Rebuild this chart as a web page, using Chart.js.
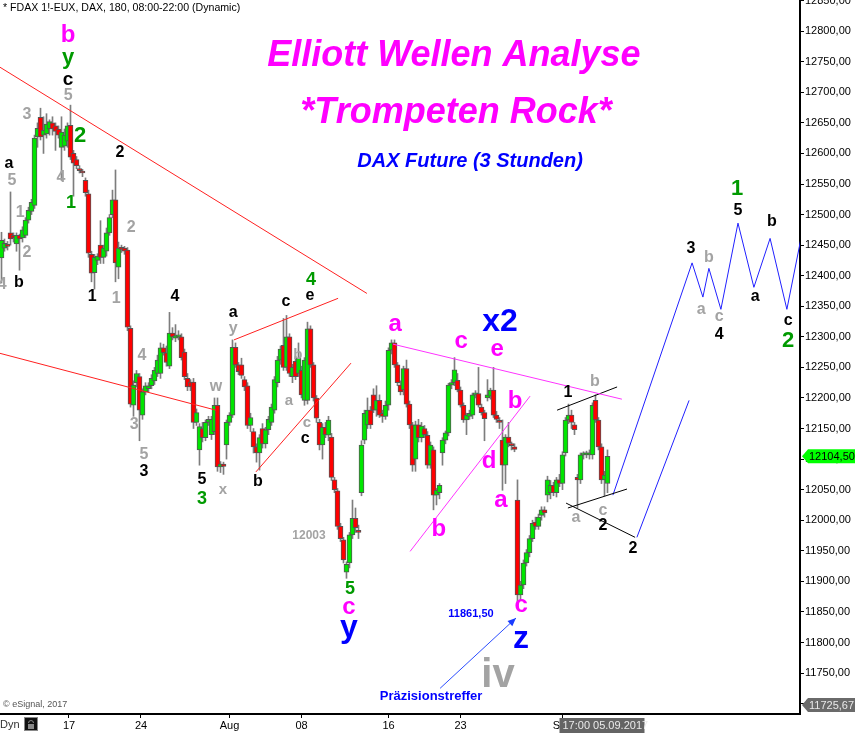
<!DOCTYPE html>
<html><head><meta charset="utf-8">
<script src="https://cdn.jsdelivr.net/npm/chart.js@4.4.1/dist/chart.umd.min.js"></script>
<style>html,body{margin:0;padding:0;background:#fff;overflow:hidden}canvas{display:block}</style>
</head><body>
<canvas id="c" width="855" height="733" style="width:855px;height:733px"></canvas>
<script>
// ---- 3-hour FDAX candles ----
const opens=[12429,12445,12450,12470,12466,12452,12466,12462,12466,12491,12505,
12515,12627,12659,12630,12632,12640,12650,12645,12640,12610,
12612,12620,12646,12600,12590,12575,12570,12556,12534,12435,
12405,12425,12450,12430,12440,12470,12500,12524,12414,12445,
12445,12442,12314,12188,12225,12235,12172,12210,12215,12220,
12228,12240,12240,12282,12274,12252,12306,12298,12300,12300,
12275,12232,12226,12226,12160,12115,12150,12135,12160,12140,
12145,12188,12087,12092,12123,12160,12172,12283,12254,12254,
12230,12220,12155,12145,12120,12110,12150,12125,12148,12160,
12180,12225,12262,12286,12250,12300,12235,12260,12240,12245,
12196,12196,12313,12254,12200,12160,12123,12152,12139,12136,
12066,12048,11990,11968,11915,11930,11976,12003,11983,12045,
12131,12156,12180,12205,12180,12196,12175,12170,12188,12278,
12290,12254,12221,12213,12248,12190,12156,12100,12156,12135,
12150,12139,12090,12115,12041,12045,12110,12131,12143,12221,
12225,12229,12213,12188,12164,12170,12172,12205,12207,12185,
12176,12200,12203,12213,12172,12163,12131,12090,12136,12124,
12120,
12033,11878,11894,11930,11947,11970,11997,11990,12008,12017,
12041,12045,12057,12045,12066,12060,12110,12164,12172,12156,
12070,12066,12107,12107,12107,12107,12196,12164,12120,12066,12060];
const highs=[12471,12460,12456,12537,12470,12470,12468,12480,12495,12512,12525,
12630,12650,12674,12660,12665,12655,12660,12650,12645,12660,
12640,12650,12679,12605,12595,12580,12574,12560,12540,12440,
12435,12436,12490,12450,12478,12500,12540,12573,12455,12450,
12448,12446,12318,12228,12245,12240,12215,12225,12225,12238,
12250,12270,12290,12288,12285,12340,12315,12320,12310,12305,
12280,12240,12230,12232,12182,12158,12160,12164,12170,12170,
12200,12200,12096,12095,12164,12176,12295,12290,12258,12265,
12235,12225,12175,12150,12125,12140,12158,12152,12170,12190,
12235,12268,12285,12330,12335,12305,12255,12268,12290,12252,
12266,12324,12318,12258,12204,12165,12158,12160,12170,12142,
12070,12052,11995,11972,11932,11980,12033,12020,11992,12130,
12180,12200,12186,12215,12220,12205,12180,12195,12282,12295,
12295,12258,12228,12252,12262,12195,12160,12162,12165,12160,
12155,12145,12128,12120,12052,12060,12135,12146,12224,12230,
12266,12240,12218,12192,12175,12180,12208,12212,12250,12190,
12180,12230,12216,12250,12178,12168,12164,12140,12160,12128,
12125,
12066,11900,11935,11952,11975,12000,12005,12010,12022,12022,
12072,12065,12062,12070,12075,12112,12168,12190,12180,12160,
12075,12110,12112,12113,12115,12192,12205,12168,12125,12080,12115];
const lows=[12388,12440,12442,12450,12455,12440,12409,12455,12462,12486,12500,
12510,12610,12622,12600,12625,12630,12630,12605,12625,12556,
12605,12610,12590,12530,12575,12568,12562,12530,12430,12390,
12378,12418,12420,12420,12432,12466,12495,12390,12395,12438,
12435,12310,12185,12170,12218,12130,12165,12205,12210,12215,
12222,12235,12232,12270,12252,12248,12295,12292,12295,12262,
12230,12212,12212,12150,12155,12090,12128,12130,12155,12132,
12140,12080,12078,12075,12100,12155,12168,12250,12238,12232,
12212,12150,12145,12110,12095,12082,12118,12118,12140,12155,
12175,12218,12255,12245,12245,12235,12225,12230,12235,12200,
12188,12190,12250,12195,12160,12115,12100,12135,12130,12065,
12045,11985,11965,11930,11905,11922,11970,11980,11970,12040,
12125,12150,12150,12176,12170,12168,12160,12165,12180,12272,
12250,12220,12205,12205,12185,12150,12080,12080,12128,12128,
12135,12085,12085,12017,12025,12035,12090,12125,12138,12215,
12220,12210,12185,12160,12140,12165,12166,12200,12185,12172,
12130,12195,12198,12168,12160,12150,12049,12060,12120,12115,
12112,
11861.5,11870,11888,11925,11940,11965,11985,11985,12000,12005,
12030,12035,12040,12038,12055,12050,12105,12158,12150,12140,
12020,12060,12100,12102,12100,12100,12160,12115,12060,12040,12045];
const closes=[12458,12453,12448,12460,12462,12466,12460,12475,12491,12507,12520,
12625,12641,12627,12638,12648,12652,12640,12636,12630,12635,
12630,12645,12594,12584,12580,12572,12568,12536,12437,12404,
12430,12432,12430,12445,12470,12495,12524,12421,12445,12443,
12440,12316,12190,12221,12240,12180,12210,12220,12220,12232,
12245,12262,12282,12274,12258,12306,12300,12302,12303,12266,
12235,12218,12218,12160,12176,12153,12135,12160,12165,12165,
12188,12087,12092,12088,12160,12172,12283,12254,12243,12237,
12218,12155,12168,12120,12110,12135,12125,12148,12165,12185,
12230,12262,12280,12250,12300,12240,12250,12235,12265,12205,
12262,12313,12254,12200,12167,12123,12152,12140,12164,12070,
12050,11990,11970,11935,11928,11976,12003,11988,11980,12123,
12175,12180,12156,12180,12196,12172,12170,12188,12278,12290,
12254,12225,12210,12248,12190,12156,12090,12156,12135,12154,
12140,12090,12123,12041,12049,12057,12131,12143,12221,12225,
12246,12213,12188,12164,12172,12175,12205,12208,12188,12176,
12166,12205,12213,12172,12165,12160,12090,12136,12126,12122,
12116,
11878,11894,11930,11947,11970,11995,11990,12005,12017,12012,
12066,12057,12045,12066,12060,12107,12164,12172,12160,12148,
12066,12107,12110,12110,12110,12188,12164,12120,12066,12074,12104.5];

// ---- axes ----
const tickPos=[22.5,46.5,76,100,129,153,187];          // bar index of date ticks
const tickLabels=['17','24','Aug','08','16','23','Sep'];
const priceTicks=[11700,11750,11800,11850,11900,11950,12000,12050,12100,12150,12200,12250,12300,12350,12400,12450,12500,12550,12600,12650,12700,12750,12800,12850];
const yMin=11683, yMax=12851, xMin=-0.5, xMax=266.17;
const lastPrice=12104.5, lowPrice=11725.67;

// ---- trend lines (bar index, price) ----
const redUpper=[{x:-0.5,y:12741},{x:121.8,y:12371}];
const redLower=[{x:-0.5,y:12273},{x:71.5,y:12180}];
const redWedgeTop=[{x:77.5,y:12295},{x:112.2,y:12363}];
const redWedgeBottom=[{x:84.8,y:12079},{x:116.5,y:12257}];
const magTop=[{x:130.5,y:12288},{x:206.8,y:12198}];
const magBottom=[{x:136.2,y:11949},{x:176.2,y:12203}];
const blackTop=[{x:185.2,y:12180},{x:205.2,y:12218}];
const blackBottom=[{x:188.8,y:12020},{x:208.5,y:12051}];
const blackDown=[{x:188.2,y:12028},{x:211.2,y:11972}];
const projIdx=[203.8,230.2,233.8,235.8,239.8,245.5,250.8,256.2,261.8,268.2];
const projPrice=[12041,12421,12365,12412,12345,12486,12381,12461,12345,12503];
const altProj=[{x:211.8,y:11972},{x:229.2,y:12196}];
const arrowLine=[{x:146.2,y:11725},{x:171.5,y:11840}];

// ---- wave labels: text, bar index, price, style ----
const waveLabels=[
['b',22.2,12793,'magM'],['y',22.2,12756,'greenM'],['c',22.2,12721,'blackM'],['5',22.2,12694,'gray'],
['3',8.5,12663,'gray'],['2',26.2,12628,'greenM'],['a',2.5,12584,'black'],['5',3.5,12555,'gray'],
['4',19.8,12561,'gray'],['1',23.2,12519,'green'],['2',39.5,12602,'black'],['1',6.2,12504,'gray'],
['2',8.5,12437,'gray'],['b',5.8,12388,'black'],['4',0.2,12385,'gray'],['2',43.2,12478,'gray'],
['1',30.2,12365,'black'],['1',38.2,12363,'gray'],['4',57.8,12365,'black'],['4',46.8,12270,'gray'],
['3',44.2,12157,'gray'],['5',47.5,12107,'gray'],['3',47.5,12080,'black'],['5',66.8,12066,'black'],
['3',66.8,12035,'green'],['x',73.8,12049,'graySm'],['w',71.5,12219,'gray'],['a',77.2,12339,'black'],
['y',77.2,12313,'gray'],['b',85.5,12064,'black'],['c',94.8,12358,'black'],['4',103.2,12393,'green'],
['e',102.8,12367,'black'],['b',98.8,12270,'graySm'],['a',95.8,12195,'graySm'],['c',101.8,12160,'graySm'],
['c',101.2,12134,'black'],['12003',102.5,11975,'grayNum'],['5',116.2,11887,'green'],
['c',115.8,11858,'mag'],['y',115.8,11824,'blueL'],['a',131.2,12321,'mag'],['c',153.2,12293,'mag'],
['x2',166.2,12324,'blueL'],['e',165.2,12280,'mag'],['b',171.2,12195,'mag'],['d',162.5,12097,'mag'],
['b',145.8,11985,'mag'],['a',166.5,12032,'mag'],['11861,50',156.5,11846,'blueNum'],
['c',173.2,11861,'mag'],['z',173.2,11805,'blueL'],['iv',165.5,11746,'grayXL'],
['Präzisionstreffer',143.2,11711,'blueTxt'],
['1',188.8,12209,'black'],['b',197.8,12226,'gray'],['a',191.5,12004,'gray'],['c',200.5,12015,'gray'],
['2',200.5,11991,'black'],['2',210.5,11953,'black'],['3',229.8,12445,'black'],['b',235.8,12430,'gray'],
['a',233.2,12345,'gray'],['c',239.2,12333,'gray'],['4',239.2,12304,'black'],['1',245.2,12542,'greenM'],
['5',245.5,12507,'black'],['b',256.8,12488,'black'],['a',251.2,12365,'black'],['c',262.2,12326,'black'],
['2',262.2,12293,'greenM'],
['Elliott Wellen Analyse',150.8,12759,'title'],['*Trompeten Rock*',151.5,12666,'title'],
['DAX Future (3 Stunden)',156.2,12587,'sub']
];
const F='"Liberation Sans", Arial, sans-serif';
const styles={
 gray:{c:'#a3a3a3',f:'bold 16px '+F}, graySm:{c:'#a3a3a3',f:'bold 15px '+F},
 grayNum:{c:'#a3a3a3',f:'bold 12px '+F}, grayXL:{c:'#a3a3a3',f:'bold 40px '+F},
 black:{c:'#000',f:'bold 16px '+F}, blackM:{c:'#000',f:'bold 19px '+F},
 green:{c:'#009a00',f:'bold 18px '+F}, greenM:{c:'#009a00',f:'bold 22px '+F},
 mag:{c:'#ff00ff',f:'bold 24px '+F}, magM:{c:'#ff00ff',f:'bold 24px '+F},
 blueL:{c:'#0000ff',f:'bold 32px '+F}, blueNum:{c:'#0000ff',f:'bold 11px '+F},
 blueTxt:{c:'#0000ff',f:'bold 13px '+F},
 title:{c:'#ff00ff',f:'italic bold 36px '+F}, sub:{c:'#0000ff',f:'italic bold 20px '+F}
};

const idx=opens.map((_,i)=>i);
const wickData=idx.map(i=>({x:i,y:[lows[i],highs[i]]}));
const bodyData=idx.map(i=>({x:i,y:[Math.min(opens[i],closes[i]),Math.max(opens[i],closes[i])]}));
const bodyColors=idx.map(i=>closes[i]>=opens[i]?'#00e600':'#ff0000');
const proj=projIdx.map((v,i)=>({x:v,y:projPrice[i]}));

function line(data,color,w){return {type:'line',data,borderColor:color,borderWidth:w||1,pointRadius:0,fill:false,tension:0,order:0};}

const annot={
 id:'annot',
 afterDatasetsDraw(chart){
  const {ctx,scales:{x,y}}=chart;
  ctx.save();
  ctx.textAlign='center'; ctx.textBaseline='middle';
  for(const [t,i,p,st] of waveLabels){
    const s=styles[st]; ctx.font=s.f; ctx.fillStyle=s.c;
    ctx.fillText(t,x.getPixelForValue(i),y.getPixelForValue(p));
  }
  const a0=arrowLine[0],a1=arrowLine[1];
  const x0=x.getPixelForValue(a0.x),y0=y.getPixelForValue(a0.y),x1=x.getPixelForValue(a1.x),y1=y.getPixelForValue(a1.y);
  const ang=Math.atan2(y1-y0,x1-x0);
  ctx.fillStyle='#1a3cff';
  ctx.beginPath(); ctx.moveTo(x1,y1);
  ctx.lineTo(x1-9*Math.cos(ang-0.4),y1-9*Math.sin(ang-0.4));
  ctx.lineTo(x1-9*Math.cos(ang+0.4),y1-9*Math.sin(ang+0.4)); ctx.closePath(); ctx.fill();
  ctx.restore();
 },
 afterDraw(chart){
  const {ctx,scales:{x,y},chartArea:ca}=chart;
  ctx.save();
  ctx.textBaseline='middle'; ctx.textAlign='left';
  ctx.font='10.6px '+F; ctx.fillStyle='#000';
  ctx.fillText('* FDAX 1!-EUX, DAX, 180, 08:00-22:00 (Dynamic)',3,8);
  ctx.font='9px '+F; ctx.fillStyle='#555';
  ctx.fillText('\u00a9 eSignal, 2017',3,ca.bottom-9);
  function tag(val,fill,txtCol,yy){
    const py=yy!==undefined?yy:y.getPixelForValue(val);
    const L=ca.right+2;
    ctx.fillStyle=fill; ctx.beginPath();
    ctx.moveTo(L,py); ctx.lineTo(L+6,py-7); ctx.lineTo(855,py-7); ctx.lineTo(855,py+7); ctx.lineTo(L+6,py+7); ctx.closePath(); ctx.fill();
    ctx.fillStyle=txtCol; ctx.font='11px '+F;
    ctx.fillText(val.toFixed(2).replace('.',','),L+7,py+0.5);
  }
  tag(lastPrice,'#00ff00','#000');
  tag(lowPrice,'#6a6a6a','#e8e8e8',ca.bottom-9);
  const bx=x.getPixelForValue(tickPos[6])-3;
  ctx.fillStyle='#646464'; ctx.fillRect(bx,ca.bottom+4,85,15);
  ctx.fillStyle='#eaeaea'; ctx.font='11px '+F;
  ctx.fillText('17:00 05.09.2017',bx+3,ca.bottom+12);
  ctx.fillStyle='#333'; ctx.fillText('Dyn',0,ca.bottom+11);
  ctx.fillStyle='#111'; ctx.fillRect(24,ca.bottom+3,14,14);
  ctx.strokeStyle='#888'; ctx.lineWidth=1; ctx.strokeRect(24.5,ca.bottom+3.5,13,13);
  ctx.fillStyle='#888'; ctx.fillRect(28,ca.bottom+10,6,5);
  ctx.beginPath(); ctx.arc(31,ca.bottom+9,2.5,Math.PI,0); ctx.stroke();
  ctx.restore();
 }
};

new Chart(document.getElementById('c'),{
 type:'bar',
 data:{datasets:[
  {type:'bar',data:wickData,backgroundColor:'#7d7d7d',barThickness:1,grouped:false,order:3},
  {type:'bar',data:bodyData,backgroundColor:bodyColors,borderColor:'#555',borderWidth:1,borderSkipped:false,barThickness:5,minBarLength:2,grouped:false,order:2},
  line(redUpper,'#ff2020'),line(redLower,'#ff2020'),line(redWedgeTop,'#ff2020'),line(redWedgeBottom,'#ff2020'),
  line(magTop,'#ff33ff'),line(magBottom,'#ff33ff'),
  line(blackTop,'#000'),line(blackBottom,'#000'),line(blackDown,'#000'),
  line(proj,'#2020ff'),line(altProj,'#2020ff'),line(arrowLine,'#2a4cff')
 ]},
 options:{
  responsive:false,animation:false,devicePixelRatio:1,
  layout:{padding:0},
  plugins:{legend:{display:false},tooltip:{enabled:false}},
  scales:{
   x:{type:'linear',min:xMin,max:xMax,offset:false,position:'bottom',
      afterBuildTicks:s=>{s.ticks=tickPos.map(v=>({value:v}));},
      afterFit:s=>{s.height=19;s.paddingLeft=0;s.paddingRight=0;},
      ticks:{autoSkip:false,maxRotation:0,minRotation:0,font:{family:'Liberation Sans',size:11},color:'#000',padding:1,callback:(v,i)=>tickLabels[i]},
      grid:{offset:false,drawOnChartArea:false,drawTicks:true,tickLength:4,color:'#000'},
      border:{display:true,color:'#000',width:2}},
   y:{type:'linear',position:'right',min:yMin,max:yMax,
      afterBuildTicks:s=>{s.ticks=priceTicks.map(v=>({value:v}));},
      afterFit:s=>{s.width=55;s.paddingTop=0;s.paddingBottom=0;},
      ticks:{font:{family:'Liberation Sans',size:11},color:'#000',padding:1,callback:v=>v.toFixed(2).replace('.',',')},
      grid:{offset:false,drawOnChartArea:false,drawTicks:true,tickLength:4,color:'#000'},
      border:{display:true,color:'#000',width:2}}
  }
 },
 plugins:[annot]
});
</script>
</body></html>
